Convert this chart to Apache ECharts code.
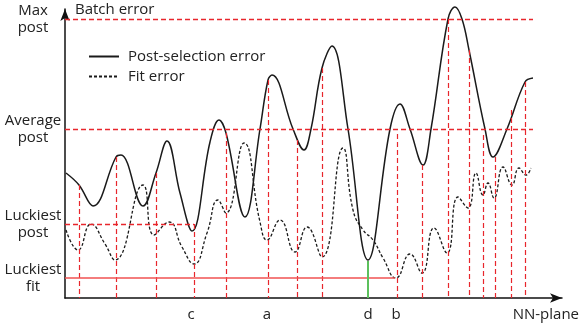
<!DOCTYPE html>
<html><head><meta charset="utf-8">
<script src="https://cdn.jsdelivr.net/npm/echarts@6/dist/echarts.min.js"></script>
<style>html,body{margin:0;padding:0;background:#fff}#c{width:581px;height:326px}</style>
</head><body><div id="c"></div>
<script>
// Post-selection error curve: [position along NN-plane, batch error]
const postSelection = [[1,125],[14,113],[28,92],[51,141],[56,143],[78,92],[91,125],[102,157],[115,105],[127,67],[145,156],[154,178],[161,165],[180,81],[195,169],[203,218],[207,223],[228,169],[239,148],[246,169],[257,230],[267,252],[283,169],[303,38],[325,169],[335,194],[345,169],[358,133],[366,169],[383,279],[390,291],[397,279],[404,248],[420,169],[428,141],[442,169],[460,216],[468,220]];
// Fit error curve
const fitError = [[1,68],[13,48],[26,74],[40,54],[50,38],[78,113],[89,63],[104,76],[117,51],[129,34],[142,65],[153,98],[161,85],[179,155],[195,76],[202,58],[215,78],[230,46],[242,71],[257,41],[278,150],[288,88],[298,68],[308,58],[318,40],[331,20],[345,44],[357,25],[369,70],[382,45],[393,101],[403,90],[411,125],[418,103],[423,115],[429,100],[438,131],[447,113],[454,130],[461,123],[466,130]];
// vertical guide lines: [x, top]
const guides = [[14,113],[51,141],[91,125],[129,74],[161,165],[203,218],[232,158],[257,230],[332,164],[357,133],[383,279],[404,248],[418,163],[430,141],[446,188],[460,216]];
// horizontal levels
const levelNames = ['Max\npost','Average\npost','Luckiest\npost','Luckiest\nfit'];
const levelValues = [279,169,74,20];
const levelEnds = [468,468,129,330];
// marked positions on NN-plane
const pointNames = ['c','a','d','b'];
const pointValues = [126,202,303,331];
const dBest = [303,37];

const FONT = 'Open Sans';
const RED = '#e8262c';
const chart = echarts.init(document.getElementById('c'));
const hDashed = [0,1,2].map(i=>[{coord:[0,levelValues[i]]},{coord:[levelEnds[i],levelValues[i]]}]);
const vDashed = guides.map(g=>[{coord:[g[0],g[1]]},{coord:[g[0],0]}]);
function guideSeries(name,data,style){
  return {name,type:'line',data:[],silent:true,
    markLine:{symbol:'none',silent:true,label:{show:false},animation:false,lineStyle:style,
      emphasis:{disabled:true},data}};
}
chart.setOption({
  animation:false,
  grid:{left:65,right:19,top:9,bottom:28},
  xAxis:{type:'value',min:0,max:497,splitLine:{show:false},
    axisLine:{lineStyle:{color:'#111',width:1.5},symbol:['none','arrow'],symbolSize:[7,12]},
    axisTick:{show:false},
    axisLabel:{customValues:pointValues,formatter:v=>pointNames[pointValues.indexOf(v)]||'',color:'#222',fontSize:15,fontFamily:FONT,margin:9}},
  yAxis:{type:'value',min:0,max:289,splitLine:{show:false},
    axisLine:{show:true,lineStyle:{color:'#111',width:1.5},symbol:['none','arrow'],symbolSize:[7,12]},
    axisTick:{show:false},
    axisLabel:{customValues:levelValues,formatter:v=>levelNames[levelValues.indexOf(v)]||'',color:'#222',fontSize:15,lineHeight:17,padding:[4,0,0,0],fontFamily:FONT,align:'center',margin:32}},
  legend:{orient:'vertical',left:83,top:44,itemWidth:30,itemHeight:14,itemGap:5,
    itemStyle:{opacity:0},
    textStyle:{fontSize:15,fontFamily:FONT,color:'#222',padding:[0,0,0,4]},
    data:['Post-selection error','Fit error']},
  graphic:[
    {type:'text',left:75,top:2,style:{text:'Batch error',fontSize:15,fontFamily:FONT,fill:'#222'}},
    {type:'text',right:2,top:307,style:{text:'NN-plane',fontSize:15,fontFamily:FONT,fill:'#222'}}
  ],
  series:[
    guideSeries('hGuides',hDashed,{type:[5,3],color:RED,width:1.3,opacity:1}),
    guideSeries('vGuides',vDashed,{type:[5,3],color:RED,width:1.2,opacity:1}),
    guideSeries('luckiestFit',[[{coord:[0,levelValues[3]]},{coord:[levelEnds[3],levelValues[3]]}]],{type:'solid',color:'#f05252',width:1.6}),
    guideSeries('best',[[{coord:[dBest[0],dBest[1]]},{coord:[dBest[0],0]}]],{type:'solid',color:'#5cc05c',width:2}),
    {name:'Post-selection error',type:'line',data:postSelection,smooth:0.4,symbol:'none',clip:false,
     lineStyle:{color:'#1a1a1a',width:1.5},itemStyle:{color:'#1a1a1a'}},
    {name:'Fit error',type:'line',data:fitError,smooth:0.5,symbol:'none',clip:false,
     lineStyle:{color:'#1a1a1a',width:1.3,type:[3,2]},itemStyle:{color:'#1a1a1a'}}
  ]
});
</script></body></html>
